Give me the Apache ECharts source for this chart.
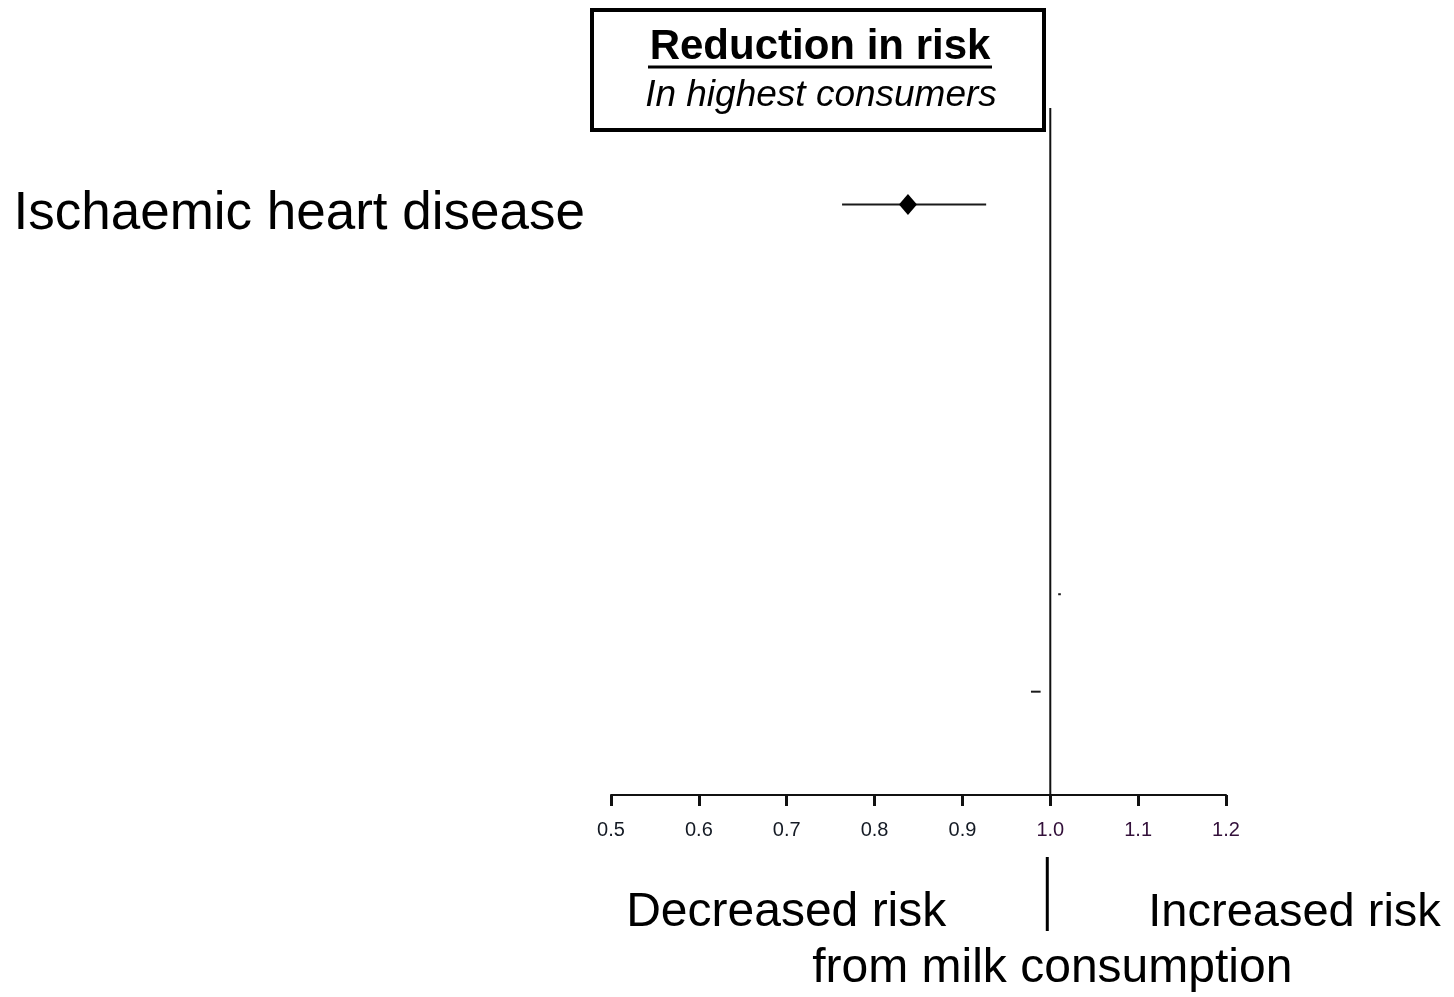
<!DOCTYPE html>
<html>
<head>
<meta charset="utf-8">
<script src="https://cdn.jsdelivr.net/npm/echarts@6/dist/echarts.min.js"></script>
<style>html,body{margin:0;padding:0;background:#fff}#c{width:1454px;height:997px}</style>
</head>
<body>
<div id="c"></div>
<script>
// ---- data ----
const rowNames = ['Ischaemic heart disease', '', '', '', '', ''];
const rowIndex = [1, 2, 3, 4, 5, 6];
const estimate = [0.838, null, null, null, null, null];
const ciLow    = [0.763, null, null, null, 1.009, 0.978];
const ciHigh   = [0.927, null, null, null, 1.012, 0.989];
const xTicks   = ['0.5', '0.6', '0.7', '0.8', '0.9', '1.0', '1.1', '1.2'];
const refValue = 1.0;
const titleText = 'Reduction in risk';
const subtitleText = 'In highest consumers';
const leftNote = 'Decreased risk';
const rightNote = 'Increased risk';
const bottomNote = 'from milk consumption';

const FONT = '"Liberation Sans", Arial, Helvetica, sans-serif';
const xMin = parseFloat(xTicks[0]), xMax = parseFloat(xTicks[xTicks.length - 1]);
const yMax = 7.05;

const ciData = [];
const estData = [];
rowIndex.forEach((r, i) => {
  if (ciLow[i] != null && ciHigh[i] != null) ciData.push([ciLow[i], ciHigh[i], r]);
  if (estimate[i] != null) estData.push([estimate[i], r]);
});

const chart = echarts.init(document.getElementById('c'));
chart.setOption({
  animation: false,
  backgroundColor: '#ffffff',
  grid: { left: 611, right: 228, top: 108, bottom: 202, containLabel: false },
  xAxis: {
    type: 'value', min: xMin, max: xMax, interval: 0.1,
    position: 'bottom',
    splitLine: { show: false },
    axisLine: { show: true, onZero: false, lineStyle: { color: '#111', width: 2 } },
    axisTick: { show: true, inside: false, length: 11, lineStyle: { color: '#111', width: 3 } },
    axisLabel: {
      margin: 25, fontSize: 20, fontFamily: FONT,
      color: function (v) { return v >= 0.999 ? '#33103a' : '#141a24'; },
      formatter: function (v) { return v.toFixed(1); }
    }
  },
  yAxis: {
    type: 'value', min: 0, max: yMax, interval: 1, inverse: true,
    splitLine: { show: false },
    axisLine: { show: false }, axisTick: { show: false },
    axisLabel: {
      margin: 26, fontSize: 53, fontFamily: FONT, color: '#000',
      formatter: function (v) {
        const i = rowIndex.indexOf(v);
        return i >= 0 && rowNames[i] ? '{n|' + rowNames[i] + '}' : '';
      },
      rich: {
        n: { fontSize: 53, fontFamily: FONT, color: '#000', padding: [18, 0, 0, 0] }
      }
    }
  },
  series: [
    {
      type: 'line', data: [[refValue, 0], [refValue, yMax]],
      symbol: 'none', lineStyle: { color: '#111', width: 2 }, silent: true, z: 2
    },
    {
      type: 'custom', data: ciData, z: 3,
      renderItem: function (params, api) {
        const a = api.coord([api.value(0), api.value(2)]);
        const b = api.coord([api.value(1), api.value(2)]);
        return {
          type: 'line',
          shape: { x1: a[0], y1: a[1] - 1, x2: b[0], y2: b[1] - 1 },
          style: { stroke: '#1a1a1a', lineWidth: 2 }
        };
      }
    },
    {
      type: 'scatter', data: estData, symbol: 'diamond', symbolSize: [18, 21],
      symbolOffset: [0, -1],
      itemStyle: { color: '#000', opacity: 1 }, z: 4
    }
  ]
});

// box and annotations, anchored to the reference value
const xRef = chart.convertToPixel({ xAxisIndex: 0 }, refValue);
chart.setOption({
  graphic: [
    { type: 'rect', shape: { x: 592, y: 10, width: 452, height: 120 },
      style: { fill: '#fff', stroke: '#000', lineWidth: 4 }, z: 10 },
    { type: 'text', x: 820, y: 47, z: 11,
      style: { text: titleText, font: 'bold 42px ' + FONT, fill: '#000', align: 'center', verticalAlign: 'middle' } },
    { type: 'line', z: 11, shape: { x1: 648, y1: 67, x2: 992, y2: 67 }, style: { stroke: '#000', lineWidth: 3 } },
    { type: 'text', x: 821, y: 96, z: 11,
      style: { text: subtitleText, font: 'italic 37px ' + FONT, fill: '#000', align: 'center', verticalAlign: 'middle' } },
    { type: 'line', shape: { x1: xRef - 3, y1: 857, x2: xRef - 3, y2: 931 }, style: { stroke: '#000', lineWidth: 3 } },
    { type: 'text', x: xRef - 104, y: 913,
      style: { text: leftNote, font: '48px ' + FONT, fill: '#000', align: 'right', verticalAlign: 'middle' } },
    { type: 'text', x: xRef + 98, y: 913,
      style: { text: rightNote, font: '47px ' + FONT, fill: '#000', align: 'left', verticalAlign: 'middle' } },
    { type: 'text', x: xRef + 2, y: 969,
      style: { text: bottomNote, font: '48px ' + FONT, fill: '#000', align: 'center', verticalAlign: 'middle' } }
  ]
});
</script>
</body>
</html>
